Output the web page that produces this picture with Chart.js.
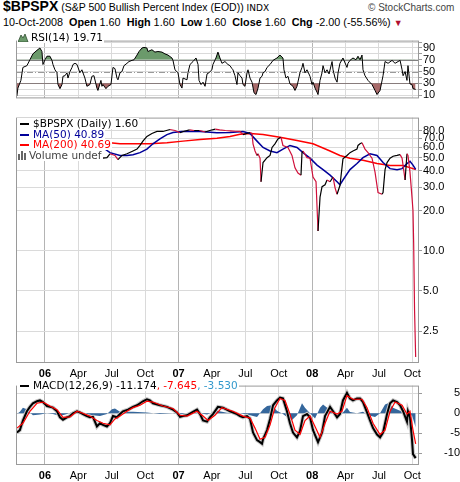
<!DOCTYPE html>
<html>
<head>
<meta charset="utf-8">
<script src="https://cdn.jsdelivr.net/npm/chart.js@4.4.0/dist/chart.umd.min.js"></script>
<style>
body{margin:0;background:#fff}
#wrap{position:relative;width:460px;height:482px;overflow:hidden;background:#fff;font-family:"Liberation Sans",Arial,sans-serif}
canvas{position:absolute;left:0}
.hdr{position:absolute;white-space:nowrap;color:#000}
.leg{position:absolute;left:17px;font-family:"DejaVu Sans";font-size:10.5px;line-height:11px;height:11px;background:#fff;white-space:nowrap;padding-right:1px}
.dash{display:inline-block;width:9px;height:2px;vertical-align:middle;margin:0 4px 1px 3px}
</style>
</head>
<body>
<div id="wrap">
  <div class="hdr" style="left:3px;top:-1px;font-size:10.5px;line-height:14px"><b style="font-size:14px">$BPSPX</b> (S&amp;P 500 Bullish Percent Index (EOD)) <span style="font-size:9px;font-family:'DejaVu Sans'">INDX</span></div>
  <div class="hdr" style="left:368px;top:2px;font-size:10px;line-height:12px;color:#444">© StockCharts.com</div>
  <div class="hdr" style="left:3px;top:16px;font-size:10.8px;line-height:12px">10-Oct-2008 &nbsp;<b>Open</b> 1.60 &nbsp;<b>High</b> 1.60 &nbsp;<b>Low</b> 1.60 &nbsp;<b>Close</b> 1.60 &nbsp;<b>Chg</b> -2.00 (-55.56%) <span style="color:#b01030;font-size:9px">▼</span></div>

  <canvas id="rsi" width="460" height="73" style="top:33px"></canvas>
  <canvas id="main" width="460" height="269" style="top:110px"></canvas>
  <canvas id="macd" width="460" height="104" style="top:378px"></canvas>

  <div class="leg" style="top:32px"><svg width="11" height="9" style="vertical-align:-1px;margin:0 2px 0 1px"><path d="M0 9 L3 2 L5 5 L7 1 L10 9 Z" fill="#6b9a6b" stroke="#2e4d2e" stroke-width="0.8"/></svg>RSI(14) 19.71</div>

  <div class="leg" style="top:118px"><span class="dash" style="background:#000"></span>$BPSPX (Daily) 1.60</div>
  <div class="leg" style="top:129px;color:#000099"><span class="dash" style="background:#000099"></span>MA(50) 40.89</div>
  <div class="leg" style="top:139px;color:#ff0000"><span class="dash" style="background:#ff0000"></span>MA(200) 40.69</div>
  <div class="leg" style="top:150px;color:#444"><svg width="10" height="9" style="vertical-align:-1px;margin:0 1px 0 1px"><rect x="0" y="3" width="2" height="6" fill="#666"/><rect x="3" y="0" width="2" height="9" fill="#666"/><rect x="6" y="2" width="2" height="7" fill="#666"/></svg>Volume undef</div>

  <div class="leg" style="top:380px"><span class="dash" style="background:#000"></span>MACD(12,26,9) -11.174<span style="color:#ff0000">, -7.645</span><span style="color:#3399cc">, -3.530</span></div>
</div>

<script>
// x values are months counted from Jan 2006 (0 = Jan 1 2006)
const xMin = -2.6, xMax = 33.6;
const tickMonths = [0, 3, 6, 9, 12, 15, 18, 21, 24, 27, 30, 33];
const tickLabels = ['06', 'Apr', 'Jul', 'Oct', '07', 'Apr', 'Jul', 'Oct', '08', 'Apr', 'Jul', 'Oct'];

const rsiTicks = [10, 20, 30, 40, 50, 60, 70, 80, 90, 100];
const rsiLabels = [10, 30, 50, 70, 90];
const rsiLevels = [30, 50, 70];
const priceTicks = [2.5, 5, 10, 20, 30, 40, 50, 60, 70, 80];
const macdTicks = [-10, -5, 0, 5];

// $BPSPX daily close
const bpspx = [
  [-2.55, 52], [-2.0, 56], [-1.5, 62], [-1.0, 67], [-0.5, 71], [0, 69], [0.5, 70], [1.0, 68], [1.3, 63],
  [1.8, 65], [2.5, 68], [3.0, 66], [3.6, 63], [4.1, 62], [4.67, 58], [4.94, 56.2], [5.21, 49.6], [5.57, 50],
  [5.84, 53.5], [6.29, 52], [6.56, 48.4], [6.92, 52], [7.37, 53.5], [7.91, 56.2], [8.27, 58], [8.54, 61.8],
  [8.8, 66.6], [9.16, 72.2], [9.61, 76], [10.06, 78.7], [10.6, 78.7], [11.23, 81.4], [11.68, 80], [12.13, 77],
  [12.5, 79], [13.0, 81], [13.4, 80], [13.9, 80], [14.4, 78], [14.8, 80], [15.3, 82], [15.7, 81], [16.2, 80],
  [16.62, 79.5], [17.1, 79], [17.52, 78.7], [17.79, 74.6], [18.42, 77.3], [18.6, 76], [18.69, 63.6], [18.87, 56.2],
  [19.05, 52], [19.14, 53.5], [19.32, 49.6], [19.41, 33], [19.59, 46], [19.95, 50], [20.22, 52], [20.4, 59.7],
  [20.66, 63.6], [20.93, 69.2], [21.2, 71.2], [21.38, 61.8], [21.83, 59.7], [22.19, 52], [22.46, 42], [22.73, 38.4],
  [23.0, 37], [23.09, 54.6], [23.18, 56.2], [23.54, 50], [23.81, 49.6], [24.08, 35.8], [24.35, 33], [24.44, 21.4],
  [24.53, 14.1], [24.71, 25.3], [24.89, 30.3], [25.16, 31.3], [25.34, 34], [25.61, 33], [25.88, 35.8], [26.06, 29.7],
  [26.24, 26.6], [26.5, 30.9], [26.68, 42], [26.77, 49], [27.13, 52], [27.4, 54.6], [27.67, 56.2], [28.03, 58],
  [28.12, 61.8], [28.3, 63.6], [28.48, 64.7], [28.75, 58], [29.02, 54.6], [29.38, 49.6], [29.65, 39], [29.92, 27.4],
  [30.28, 26.6], [30.37, 27.4], [30.55, 40.7], [30.73, 46], [31.0, 49.6], [31.27, 51.3], [31.63, 52], [31.9, 52.7],
  [32.08, 49.6], [32.35, 34], [32.52, 53.5], [32.61, 52], [32.79, 39], [32.97, 25.3], [33.06, 20], [33.12, 11.5],
  [33.2, 3.6], [33.3, 1.6]
];

const ma50 = [
  [-2.55, 60], [-1.5, 60], [-0.5, 64], [0.5, 68], [1.5, 69], [2.5, 69], [3.5, 68], [4.13, 67], [4.94, 61.8],
  [5.84, 54.6], [6.74, 52], [7.37, 52], [7.91, 52.7], [8.54, 54.6], [9.16, 58], [9.7, 63.6], [10.33, 69.2],
  [10.96, 74.6], [11.5, 77.3], [12.31, 78.7], [13.93, 78.7], [15.45, 77], [16.62, 77.3], [17.79, 78.7],
  [18.42, 76], [19.05, 66.6], [19.59, 59.7], [20.22, 56.2], [20.84, 54.6], [21.38, 58], [22.01, 61.8],
  [22.64, 59.7], [23.18, 54.6], [23.81, 49.6], [24.44, 44], [24.98, 40.7], [25.61, 37], [26.24, 33],
  [26.5, 31.3], [26.77, 34], [27.4, 40.7], [28.03, 45.2], [28.57, 50], [29.2, 53.5], [29.83, 52], [30.37, 46],
  [31.0, 41.4], [31.63, 40.7], [32.08, 41.4], [32.52, 45.2], [32.79, 47], [33.06, 44], [33.3, 40.89]
];

const ma200 = [
  [-2.55, 66], [0, 67], [2, 67], [4.13, 67], [4.94, 66.6], [5.84, 64.7], [6.74, 63.6], [7.91, 63.6],
  [9.43, 63.6], [10.96, 64.7], [12.4, 66.6], [13.93, 68.6], [15.45, 70], [16.62, 72.2], [17.52, 75],
  [18.42, 76], [19.59, 74.6], [21.11, 71.2], [22.64, 67.4], [24.08, 63.6], [25.61, 56.2], [26.5, 52],
  [27.4, 49.6], [28.57, 47.8], [29.83, 45.2], [31.0, 43.7], [32.17, 43.7], [33.06, 41.4], [33.3, 40.69]
];

const rsi14 = [
  [-2.52, 8.6], [-2.43, 22], [-2.16, 35], [-1.98, 57], [-1.62, 60], [-1.35, 70], [-1.08, 80], [-0.72, 86],
  [-0.45, 90], [-0.27, 84], [-0.18, 62], [0, 70], [0.18, 76], [0.45, 76], [0.63, 69], [0.72, 62], [0.9, 53],
  [1.08, 48], [1.17, 28], [1.35, 21], [1.53, 28], [1.62, 42], [1.8, 43], [1.98, 48], [2.07, 39], [2.25, 50],
  [2.43, 57], [2.52, 62], [2.7, 64], [2.88, 62], [3.14, 48], [3.32, 53], [3.59, 39], [3.77, 25], [4.04, 28],
  [4.22, 42], [4.4, 43], [4.67, 22], [4.76, 18], [5.03, 35], [5.12, 25], [5.21, 28], [5.48, 21], [5.66, 25],
  [5.93, 28], [6.11, 57], [6.29, 55], [6.47, 39], [6.56, 36], [6.74, 48], [6.92, 50], [7.1, 60], [7.37, 64],
  [7.55, 67], [7.82, 69], [8.0, 70], [8.27, 78], [8.45, 84], [8.72, 90], [8.89, 91], [9.16, 90], [9.25, 84],
  [9.61, 87], [9.88, 83], [10.15, 84], [10.51, 83], [10.78, 80], [11.05, 78], [11.41, 73], [11.5, 69],
  [11.68, 53], [11.95, 48], [12.13, 28], [12.31, 22], [12.4, 39], [12.76, 36], [12.85, 48], [13.03, 62],
  [13.3, 67], [13.57, 73], [13.75, 62], [13.84, 35], [14.02, 28], [14.2, 32], [14.38, 25], [14.56, 46],
  [14.73, 48], [15.0, 53], [15.09, 62], [15.36, 73], [15.54, 83], [15.72, 73], [15.9, 64], [16.17, 67],
  [16.44, 62], [16.62, 60], [16.8, 55], [16.89, 53], [17.07, 43], [17.25, 28], [17.34, 48], [17.52, 43],
  [17.7, 39], [17.79, 28], [17.97, 25], [18.15, 48], [18.24, 53], [18.42, 39], [18.6, 32], [18.78, 14],
  [18.96, 11], [19.14, 22], [19.32, 39], [19.5, 42], [19.59, 48], [19.77, 50], [19.95, 57], [20.22, 62],
  [20.49, 69], [20.84, 73], [21.11, 78], [21.38, 73], [21.47, 53], [21.65, 39], [21.83, 42], [22.01, 29],
  [22.28, 25], [22.46, 18], [22.64, 25], [22.91, 48], [23.09, 57], [23.18, 64], [23.36, 48], [23.54, 53],
  [23.81, 42], [23.99, 28], [24.08, 32], [24.26, 22], [24.44, 15], [24.53, 11], [24.71, 35], [24.89, 48],
  [24.98, 60], [25.16, 48], [25.34, 53], [25.52, 46], [25.79, 67], [25.88, 53], [26.06, 39], [26.24, 32],
  [26.33, 48], [26.5, 64], [26.77, 73], [27.13, 57], [27.22, 64], [27.4, 69], [27.67, 73], [27.94, 70],
  [28.12, 76], [28.3, 70], [28.48, 78], [28.57, 53], [28.75, 43], [29.02, 35], [29.38, 28], [29.65, 18],
  [29.83, 11], [30.1, 18], [30.37, 43], [30.55, 67], [30.82, 64], [31.18, 69], [31.45, 64], [31.72, 67],
  [31.9, 69], [32.08, 53], [32.17, 43], [32.35, 50], [32.52, 35], [32.61, 60], [32.79, 29], [32.97, 28],
  [33.06, 21], [33.3, 19.71]
];

const macdLine = [
  [-2.52, -4.8], [-2.25, -4.2], [-1.98, -1.8], [-1.62, 0.5], [-1.35, 1.6], [-1.08, 2.5], [-0.72, 3.0],
  [-0.45, 3.2], [-0.18, 2.8], [0.18, 1.8], [0.45, 1.6], [0.72, 1.4], [1.08, 0.5], [1.35, -1.0], [1.62, -1.6],
  [1.98, -1.0], [2.25, -0.7], [2.52, 0], [2.88, 0.5], [3.14, 0.2], [3.41, -0.2], [3.77, -0.7], [4.04, -1.0],
  [4.31, -0.9], [4.67, -3.3], [4.94, -2.5], [5.21, -2.9], [5.57, -3.3], [5.84, -2.5], [6.11, -0.7],
  [6.47, -1.0], [6.74, -0.2], [7.01, 0.5], [7.46, 0.9], [7.91, 1.6], [8.27, 2.0], [8.54, 2.5], [8.8, 3.0],
  [9.16, 3.5], [9.43, 3.2], [9.7, 2.5], [10.33, 2.0], [10.96, 1.6], [11.5, 0.9], [11.86, 0.2], [12.13, -0.9],
  [12.4, -0.7], [12.76, -0.5], [13.21, 0.2], [13.66, 0.9], [13.93, -0.2], [14.2, -1.8], [14.56, -2.1],
  [14.82, -1.0], [15.09, -0.2], [15.54, 1.6], [15.99, 1.4], [16.62, 0.5], [17.25, -0.2], [17.52, -0.7],
  [17.79, -1.0], [18.15, -0.7], [18.42, -1.4], [18.69, -4.8], [19.05, -6.7], [19.32, -7.2], [19.5, -7.6],
  [19.59, -6.5], [19.95, -4.2], [20.22, -1.4], [20.49, 2.0], [20.84, 3.2], [21.11, 3.9], [21.38, 3.7],
  [21.74, 0.5], [22.01, -2.5], [22.28, -4.8], [22.64, -6.0], [22.91, -4.4], [23.18, -0.7], [23.54, -0.2],
  [23.81, -1.0], [24.08, -4.2], [24.53, -7.2], [24.89, -4.8], [25.16, -0.7], [25.61, 1.6], [25.88, 0.5],
  [26.24, -1.0], [26.5, -0.2], [26.77, 3.2], [27.13, 5.1], [27.4, 3.7], [27.67, 3.2], [28.03, 3.7],
  [28.3, 3.7], [28.57, 2.8], [28.93, 0.2], [29.2, -1.8], [29.47, -3.7], [29.83, -5.3], [30.1, -6.0],
  [30.37, -4.8], [30.73, -0.2], [31.0, 2.5], [31.27, 3.2], [31.63, 2.8], [31.9, 2.0], [32.17, 0.5],
  [32.52, -2.1], [32.61, 0.5], [32.79, -1.0], [32.97, -6.5], [33.06, -10.2], [33.3, -11.174]
];

const macdSignal = [
  [-2.52, -3.7], [-1.98, -2.5], [-1.35, 0.5], [-0.72, 2.5], [-0.18, 2.8], [0.45, 1.8], [1.08, 0.9],
  [1.62, -1.0], [2.25, -0.9], [2.88, 0.5], [3.41, 0], [4.04, -0.7], [4.67, -1.8], [5.21, -2.5], [5.84, -2.9],
  [6.29, -1.4], [6.74, -0.7], [7.37, 0.5], [7.91, 1.4], [8.54, 2.0], [9.16, 3.0], [9.7, 2.8], [10.6, 1.8],
  [11.5, 1.2], [12.13, -0.5], [12.76, -0.7], [13.66, 0.5], [14.2, -0.7], [14.65, -1.8], [15.27, -0.5],
  [15.9, 1.4], [16.89, 0.5], [17.79, -0.7], [18.42, -1.2], [18.87, -3.7], [19.32, -6.5], [19.77, -6.0],
  [20.22, -2.9], [20.66, 1.4], [21.11, 3.7], [21.56, 3.2], [22.01, -0.2], [22.46, -4.2], [22.91, -5.3],
  [23.36, -1.8], [23.81, -0.7], [24.26, -3.3], [24.71, -6.0], [25.16, -2.5], [25.61, 0.5], [26.24, -0.2],
  [26.68, 0.5], [27.13, 4.4], [27.67, 3.5], [28.48, 3.5], [28.93, 1.4], [29.47, -2.5], [30.1, -5.3],
  [30.55, -4.2], [31.0, 0.5], [31.45, 2.8], [32.08, 2.0], [32.52, -0.2], [32.79, 0.5], [33.06, -4.2],
  [33.3, -7.645]
];

const macdHist = [
  [-2.52, -0.2], [-2.25, 0.4], [-1.98, 1.4], [-1.62, 1.0], [-1.35, 0.2], [-1.08, -0.5], [-0.45, -0.3],
  [0.18, 0], [0.72, -0.2], [1.35, -0.7], [1.98, -0.2], [2.52, 0.4], [3.14, 0.2], [3.77, -0.2], [4.31, -0.5],
  [4.94, -0.7], [5.57, -0.2], [6.02, 1.0], [6.29, 1.2], [6.74, 0.4], [7.91, 0.4], [9.16, 0.2], [10.33, -0.2],
  [11.5, 0], [12.13, -0.3], [13.3, 0.4], [13.93, 0], [14.56, -0.3], [15.45, 0.6], [16.35, 0.1], [17.52, 0],
  [18.42, -0.5], [19.05, -0.9], [19.59, 1.0], [19.95, 1.8], [20.4, 2.0], [20.84, 0.6], [21.38, -0.2],
  [21.74, -0.9], [22.19, -1.7], [22.64, -0.5], [23.09, 2.5], [23.36, 1.4], [23.81, 0], [24.26, -1.3],
  [24.71, 1.4], [24.98, 2.2], [25.61, 0.8], [26.24, 0], [26.77, 0.2], [27.13, 1.4], [27.4, 0.3], [28.03, 0],
  [28.57, 0.4], [29.02, -0.5], [29.65, -0.9], [30.1, 0], [30.55, 2.2], [30.82, 2.5], [31.27, 1.4],
  [31.9, 0.6], [32.35, 0], [32.61, -1.7], [32.97, -0.5], [33.3, -3.53]
];

const xy = a => a.map(p => ({x: p[0], y: p[1]}));
const GRID = '#dadada', YEAR_GRID = '#b4b4b4', FRAME = '#9a9a9a';

function xAxis(showLabels, h) {
  return {
    type: 'linear', min: xMin, max: xMax,
    afterBuildTicks: s => { s.ticks = tickMonths.map(v => ({value: v})); },
    afterFit: s => { s.height = h; },
    grid: {color: c => (c.tick && c.tick.value % 12 === 0) ? YEAR_GRID : GRID, drawTicks: false},
    border: {display: false},
    ticks: {
      display: showLabels, padding: 4, autoSkip: false, maxRotation: 0, color: '#000',
      font: c => ({family: 'Liberation Sans', size: 11, weight: (c.tick && c.tick.value % 12 === 0) ? 'bold' : 'normal'}),
      callback: (v, i) => tickLabels[i]
    }
  };
}

const frame = {
  id: 'frame',
  afterDraw(chart) {
    const a = chart.chartArea, c = chart.ctx;
    c.save();
    c.strokeStyle = FRAME; c.lineWidth = 1;
    c.strokeRect(a.left + 0.5, a.top + 0.5, a.right - a.left - 1, a.bottom - a.top - 1);
    c.restore();
  }
};

const rsiRefLines = {
  id: 'rsiRefLines',
  beforeDatasetsDraw(chart) {
    const a = chart.chartArea, c = chart.ctx, y = chart.scales.y;
    c.save();
    rsiLevels.forEach(v => {
      const py = Math.round(y.getPixelForValue(v)) + 0.5;
      c.beginPath();
      if (v === 50) { c.strokeStyle = '#999'; c.setLineDash([6, 2, 1, 2]); }
      else { c.strokeStyle = '#808080'; c.setLineDash([]); }
      c.lineWidth = 1;
      c.moveTo(a.left, py); c.lineTo(a.right, py); c.stroke();
    });
    c.restore();
  }
};

const common = {
  responsive: false, animation: false,
  plugins: {legend: {display: false}, tooltip: {enabled: false}},
  elements: {point: {radius: 0}, line: {tension: 0}}
};

new Chart(document.getElementById('rsi'), {
  type: 'line',
  data: {datasets: [
    {data: xy(rsi14), borderColor: '#000', borderWidth: 1, order: 0, fill: false},
    {data: xy(rsi14), borderWidth: 0, borderColor: 'transparent', order: 1,
     fill: {target: {value: 70}, above: '#6b9a6b', below: 'rgba(0,0,0,0)'}},
    {data: xy(rsi14), borderWidth: 0, borderColor: 'transparent', order: 2,
     fill: {target: {value: 30}, above: 'rgba(0,0,0,0)', below: '#a86a6a'}}
  ]},
  options: Object.assign({}, common, {
    layout: {padding: {left: 16, top: 1, bottom: 1, right: 0}},
    scales: {
      x: xAxis(false, 0),
      y: {
        position: 'right', min: 4.5, max: 102.5,
        afterBuildTicks: s => { s.ticks = rsiTicks.map(v => ({value: v})); },
        afterFit: s => { s.width = 41; },
        grid: {color: GRID, tickLength: 3, tickColor: FRAME},
        border: {display: false},
        ticks: {padding: 1, color: '#000', autoSkip: false, font: {family: 'Liberation Sans', size: 11},
          callback: v => rsiLabels.includes(v) ? String(v) : ''}
      }
    }
  }),
  plugins: [rsiRefLines, frame]
});

new Chart(document.getElementById('main'), {
  type: 'line',
  data: {datasets: [
    {data: xy(ma200), borderColor: '#ff0000', borderWidth: 1.5, order: 2},
    {data: xy(ma50), borderColor: '#000099', borderWidth: 1.5, order: 1},
    {data: xy(bpspx), borderColor: '#000', borderWidth: 1.2, order: 0,
     segment: {borderColor: c => c.p1.parsed.y < c.p0.parsed.y ? '#d0103a' : '#000'}}
  ]},
  options: Object.assign({}, common, {
    layout: {padding: {left: 16, top: 1, bottom: 0, right: 0}},
    scales: {
      x: xAxis(true, 16),
      y: {
        type: 'logarithmic', position: 'right', min: 1.44, max: 100,
        afterBuildTicks: s => { s.ticks = priceTicks.map(v => ({value: v})); },
        afterFit: s => { s.width = 41; },
        grid: {color: GRID, tickLength: 3, tickColor: FRAME},
        border: {display: false},
        ticks: {padding: 1, color: '#000', autoSkip: false, font: {family: 'Liberation Sans', size: 11},
          callback: v => Number(v).toFixed(1)}
      }
    }
  }),
  plugins: [frame]
});

new Chart(document.getElementById('macd'), {
  type: 'line',
  data: {datasets: [
    {data: xy(macdHist), borderWidth: 0, borderColor: 'transparent', backgroundColor: '#35679c', fill: 'origin', order: 4},
    {data: xy(macdLine), borderColor: '#c8c8c8', borderWidth: 4, order: 3},
    {data: xy(macdSignal), borderColor: '#ff0000', borderWidth: 1.2, order: 1},
    {data: xy(macdLine), borderColor: '#000', borderWidth: 2, order: 2}
  ]},
  options: Object.assign({}, common, {
    layout: {padding: {left: 16, top: 1, bottom: 0, right: 0}},
    scales: {
      x: xAxis(true, 17),
      y: {
        position: 'right', min: -12.9, max: 6.9,
        afterBuildTicks: s => { s.ticks = macdTicks.map(v => ({value: v})); },
        afterFit: s => { s.width = 41; },
        grid: {color: GRID, tickLength: 3, tickColor: FRAME},
        border: {display: false},
        ticks: {padding: 1, crossAlign: 'far', color: '#000', autoSkip: false, font: {family: 'Liberation Sans', size: 11},
          callback: v => String(v)}
      }
    }
  }),
  plugins: [frame]
});
</script>
</body>
</html>
